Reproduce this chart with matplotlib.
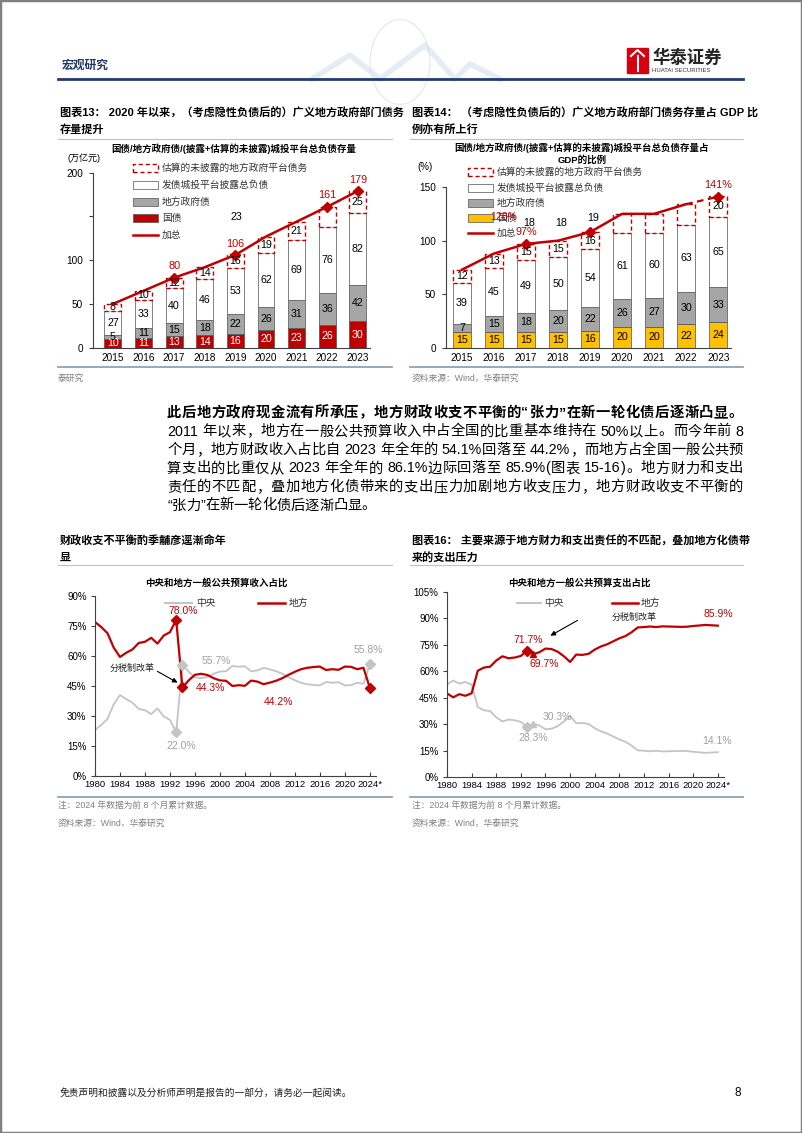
import re
import numpy as np
import matplotlib
matplotlib.use("Agg")
import matplotlib.pyplot as plt
from matplotlib.patches import Rectangle, Circle
from matplotlib.lines import Line2D

plt.rcParams['font.family'] = ['Liberation Sans', 'Noto Sans CJK SC', 'DejaVu Sans']
plt.rcParams['axes.linewidth'] = 0.8

# ---------------- data ----------------
bar_years = ['2015', '2016', '2017', '2018', '2019', '2020', '2021', '2022', '2023']

# 图表13 (万亿元)
gz_amt = [10, 11, 13, 14, 16, 20, 23, 26, 30]          # 国债
dfz_amt = [5, 11, 15, 18, 22, 26, 31, 36, 42]          # 地方政府债
ct_amt = [27, 33, 40, 46, 53, 62, 69, 76, 82]          # 发债城投平台披露总负债
est_amt = [8, 10, 12, 14, 16, 19, 21, 23, 25]          # 估算的未披露
total_amt = [50, 65, 80, 92, 106, 127, 144, 161, 179]  # 加总

# 图表14 (% of GDP)
gz_gdp = [15, 15, 15, 15, 16, 20, 20, 22, 24]
dfz_gdp = [7, 15, 18, 20, 22, 26, 27, 30, 33]
ct_gdp = [39, 45, 49, 50, 54, 61, 60, 63, 65]
est_gdp = [12, 13, 15, 15, 16, 18, 18, 19, 20]
total_gdp = [73, 88, 97, 100, 108, 125, 125, 134, 141]

line_years = list(range(1980, 2025))
rev_central = [23.0, 25.5, 28.6, 35.8, 40.5, 38.4, 36.7, 33.5, 32.9, 30.9,
               33.8, 29.8, 28.1, 22.0, 55.7, 52.2, 49.4, 48.9, 49.5, 51.1,
               52.2, 52.4, 55.0, 54.6, 54.9, 52.3, 52.8, 54.1, 53.3, 52.4,
               51.1, 49.4, 47.9, 46.6, 45.9, 45.5, 45.3, 47.0, 46.6, 46.9,
               45.3, 45.4, 46.6, 46.1, 55.8]
rev_local = [77.0, 74.5, 71.4, 64.2, 59.5, 61.6, 63.3, 66.5, 67.1, 69.1,
             66.2, 70.2, 71.9, 78.0, 44.3, 47.8, 50.6, 51.1, 50.5, 48.9,
             47.8, 47.6, 45.0, 45.4, 45.1, 47.7, 47.2, 45.9, 46.7, 47.6,
             48.9, 50.6, 52.1, 53.4, 54.1, 54.5, 54.7, 53.0, 53.4, 53.1,
             54.7, 54.6, 53.4, 54.1, 44.2]
exp_central = [52.5, 54.8, 53.0, 53.9, 52.5, 39.7, 37.9, 37.4, 33.9, 31.5,
               32.6, 32.2, 31.3, 28.3, 30.3, 29.2, 27.1, 27.4, 28.9, 31.5,
               34.7, 30.5, 30.7, 30.1, 27.7, 25.9, 24.7, 23.0, 21.3, 20.0,
               17.8, 15.1, 14.9, 14.6, 14.9, 14.5, 14.6, 14.7, 14.8, 14.7,
               14.3, 14.0, 13.7, 13.9, 14.1]
exp_local = [47.5, 45.2, 47.0, 46.1, 47.5, 60.3, 62.1, 62.6, 66.1, 68.5,
             67.4, 67.8, 68.7, 71.7, 69.7, 70.8, 72.9, 72.6, 71.1, 68.5,
             65.3, 69.5, 69.3, 69.9, 72.3, 74.1, 75.3, 77.0, 78.7, 80.0,
             82.2, 84.9, 85.1, 85.4, 85.1, 85.5, 85.4, 85.3, 85.2, 85.3,
             85.7, 86.0, 86.3, 86.1, 85.9]

legend_bar = ['估算的未披露的地方政府平台债务', '发债城投平台披露总负债', '地方政府债', '国债', '加总']

body = ['此后地方政府现金流有所承压，地方财政收支不平衡的“张力”在新一轮化债后逐渐凸显。',
        '2011 年以来，地方在一般公共预算收入中占全国的比重基本维持在 50%以上。而今年前 8',
        '个月，地方财政收入占比自 2023 年全年的 54.1%回落至 44.2%，而地方占全国一般公共预',
        '算支出的比重仅从 2023 年全年的 86.1%边际回落至 85.9%(图表 15-16)。地方财力和支出',
        '责任的不匹配，叠加地方化债带来的支出压力加剧地方收支压力，地方财政收支不平衡的',
        '“张力”在新一轮化债后逐渐凸显。']

RED = '#C00000'
GRAY = '#A6A6A6'
LGRAY = '#C4C4C4'
GOLD = '#FFC000'
SRC = '#808080'
W, H = 802, 1133

fig = plt.figure(figsize=(W / 100, H / 100), dpi=100)


def fx(x):
    return x / W


def fy(y):
    return 1 - y / H


def txt(x, y, s, size=7, **kw):
    kw.setdefault('va', 'center')
    return fig.text(fx(x), fy(y), s, fontsize=size, **kw)


def hline(x0, x1, y, color, lw):
    fig.add_artist(Line2D([fx(x0), fx(x1)], [fy(y), fy(y)], color=color, lw=lw))


def add_axes(l, t, r, b):
    return fig.add_axes([fx(l), fy(b), (r - l) / W, (b - t) / H])


def patch(x, y, w, h, **kw):
    fig.add_artist(Rectangle((fx(x), fy(y + h / 2)), w / W, h / H, transform=fig.transFigure, **kw))


# ---------------- page frame / header / footer ----------------
fig.add_artist(Rectangle((0, 0), 1, 1, transform=fig.transFigure, fill=False, edgecolor='#808080', lw=2.5))
globe = Circle((fx(400), fy(62)), 30 / W, transform=fig.transFigure, fill=False, edgecolor='#E4E8EC', lw=0.8)
fig.add_artist(globe)
fig.add_artist(Line2D([fx(x) for x in (312, 350, 380, 425, 455, 470, 500)],
                      [fy(y) for y in (79, 55, 79, 45, 79, 64, 79)], color='#D3E0EE', lw=4, alpha=0.6))
txt(62, 66, '宏观研究', 8.5, weight='bold', color='#1F3864')
hline(58, 743, 79, '#1F3C6E', 2)
patch(627, 60.5, 21, 25, color='#D7000F')
fig.add_artist(Line2D([fx(631), fx(637.5), fx(644)], [fy(56), fy(50), fy(56)], color='white', lw=1.5))
fig.add_artist(Line2D([fx(637.5), fx(637.5)], [fy(56), fy(71)], color='white', lw=1.5))
txt(652, 57, '华泰证券', 12.5, weight='bold', color='#222222')
txt(652, 71, 'HUATAI SECURITIES', 4.3, color='#333333')
txt(60, 1093, '免责声明和披露以及分析师声明是报告的一部分，请务必一起阅读。', 7, color='#222222')
txt(741, 1093, '8', 8.5, ha='right')

# ---------------- section titles ----------------
txt(60, 113, '图表13： 2020 年以来，（考虑隐性负债后的）广义地方政府部门债务', 8, weight='bold')
txt(60, 130, '存量提升', 8, weight='bold')
txt(412, 113, '图表14： （考虑隐性负债后的）广义地方政府部门债务存量占 GDP 比', 8, weight='bold')
txt(412, 130, '例亦有所上行', 8, weight='bold')
hline(58, 392, 139, '#B8C4CE', 0.8)
hline(410, 743, 139, '#B8C4CE', 0.8)

txt(60, 541, '财政收支不平衡酌季黼彦逕漸命年', 8, weight='bold')
txt(60, 558, '显', 8, weight='bold')
txt(412, 541, '图表16： 主要来源于地方财力和支出责任的不匹配，叠加地方化债带', 8, weight='bold')
txt(412, 558, '来的支出压力', 8, weight='bold')
hline(58, 392, 565, '#B8C4CE', 0.8)
hline(410, 743, 565, '#B8C4CE', 0.8)

# sources
hline(58, 392, 367, '#8FA3B8', 1.3)
hline(410, 743, 367, '#8FA3B8', 1.3)
txt(58, 378, '泰研究', 6.3, color=SRC)
txt(412, 378, '资料来源：Wind，华泰研究', 6.3, color=SRC)
hline(58, 392, 797, '#8FA3B8', 1.3)
hline(410, 743, 797, '#8FA3B8', 1.3)
for x0 in (58, 412):
    txt(x0, 806, '注：2024 年数据为前 8 个月累计数据。', 6.3, color=SRC)
    txt(x0, 823, '资料来源：Wind，华泰研究', 6.3, color=SRC)

# ---------------- body paragraph (justified) ----------------
renderer = fig.canvas.get_renderer()


def put_line(s, x0, x1, y, size, weight, justify):
    toks = re.findall(r'[0-9A-Za-z.%\-]+|.', s)
    objs, widths = [], []
    for t in toks:
        o = txt(0, y, t, size, weight=weight)
        objs.append(o)
        if t == ' ':
            widths.append(0.25 * size * 100 / 72)
        else:
            widths.append(o.get_window_extent(renderer).width)
    gap = (x1 - x0 - sum(widths)) / (len(toks) - 1) if justify else 0
    x = x0
    for o, w in zip(objs, widths):
        o.set_x(fx(x))
        x += w + gap


for i, line in enumerate(body):
    put_line(line, 167, 743, 413 + i * 18.5, 10.3, 'bold' if i == 0 else 'normal', i < len(body) - 1)


# ---------------- bar charts ----------------
def bar_panel(ax, gz, dfz, ct, est, total, gz_color, gz_tc, skip, marks, dash_last, lab_off, lab_fmt):
    x = np.arange(len(bar_years))
    gz, dfz, ct, est, total = map(np.array, (gz, dfz, ct, est, total))
    b2 = gz + dfz
    b3 = b2 + ct
    w = 0.55
    fs = 7.7
    ax.bar(x, gz, w, color=gz_color, edgecolor='#505050', lw=0.5, zorder=2)
    ax.bar(x, dfz, w, bottom=gz, color=GRAY, edgecolor='#505050', lw=0.5, zorder=2)
    ax.bar(x, ct, w, bottom=b2, color='white', edgecolor='#505050', lw=0.5, zorder=2)
    ax.bar(x, est, w, bottom=b3, color='white', edgecolor=RED, lw=1.0, ls=(0, (3, 2)), zorder=2)
    for i in x:
        ax.text(i, gz[i] / 2, str(gz[i]), color=gz_tc, ha='center', va='center', fontsize=fs, zorder=5)
        ax.text(i, gz[i] + dfz[i] / 2, str(dfz[i]), ha='center', va='center', fontsize=fs, zorder=5)
        ax.text(i, b2[i] + ct[i] / 2, str(ct[i]), ha='center', va='center', fontsize=fs, zorder=5)
        if i not in skip:
            ax.text(i, b3[i] + est[i] / 2, str(est[i]), ha='center', va='center', fontsize=fs, zorder=5)
    if dash_last:
        ax.plot(x[:-1], total[:-1], color=RED, lw=1.8, zorder=3)
        ax.plot(x[-2:], total[-2:], color=RED, lw=1.6, ls=(0, (3, 2)), zorder=3)
    else:
        ax.plot(x, total, color=RED, lw=1.8, zorder=3)
    for i in marks:
        ax.plot(x[i], total[i], 'D', color=RED, ms=5, zorder=4)
    for i in marks:
        if i in lab_fmt:
            ax.text(x[i], total[i] + lab_off, lab_fmt[i], color=RED, ha='center', va='center', fontsize=7.8,
                    zorder=6)
    ax.set_xticks(x)
    ax.set_xticklabels(bar_years)
    ax.tick_params(axis='x', length=0, pad=3.5, labelsize=7.2)
    ax.tick_params(axis='y', length=3, pad=4, labelsize=7.2, direction='out', color='#404040')
    for s in ('top', 'right'):
        ax.spines[s].set_visible(False)
    for s in ('left', 'bottom'):
        ax.spines[s].set_color('#404040')


ax13 = add_axes(93, 172.7, 370, 347.7)
bar_panel(ax13, gz_amt, dfz_amt, ct_amt, est_amt, total_amt, RED, 'white', skip={7},
          marks=[2, 4, 7, 8], dash_last=False, lab_off=13,
          lab_fmt={2: '80', 4: '106', 7: '161', 8: '179'})
ax13.set_xlim(-0.65, 8.4)
ax13.set_ylim(0, 200)
ax13.set_yticks([0, 50, 100, 150, 200])
ax13.set_yticklabels(['0', '50', '100', '', '200'])
ax13.text(4.05, 149, str(est_amt[7]), ha='center', va='center', fontsize=7.7)

ax14 = add_axes(446, 187, 731, 348)
bar_panel(ax14, gz_gdp, dfz_gdp, ct_gdp, est_gdp, total_gdp, GOLD, 'black', skip={5, 6, 7},
          marks=[2, 4, 8], dash_last=True, lab_off=11,
          lab_fmt={2: '97%', 8: '141%'})
ax14.set_xlim(-0.5, 8.4)
ax14.set_ylim(0, 150)
ax14.set_yticks([0, 50, 100, 150])
for xi, yi, k in ((2.1, 116.5, 5), (3.1, 116.5, 6), (4.1, 121, 7)):
    ax14.text(xi, yi, str(est_gdp[k]), ha='center', va='center', fontsize=7.7)

# unit labels / inner titles
txt(67, 158, '(万亿元)', 6.5)
txt(425, 167, '(%)', 7, ha='center')
txt(234, 149, '国债/地方政府债/(披露+估算的未披露)城投平台总负债存量', 6.8, weight='bold', ha='center')
txt(582, 148, '国债/地方政府债/(披露+估算的未披露)城投平台总负债存量占', 6.8, weight='bold', ha='center')
txt(582, 160, 'GDP的比例', 6.8, weight='bold', ha='center')


def bar_legend(x0, ys, gz_color):
    pw, ph = 25, 7
    patch(x0, ys[0], pw, ph, facecolor='white', edgecolor=RED, lw=1.0, ls=(0, (3, 2)))
    patch(x0, ys[1], pw, ph, facecolor='white', edgecolor='#505050', lw=0.5)
    patch(x0, ys[2], pw, ph, facecolor=GRAY, edgecolor='#505050', lw=0.5)
    patch(x0, ys[3], pw, ph, facecolor=gz_color, edgecolor='#505050', lw=0.5)
    fig.add_artist(Line2D([fx(x0), fx(x0 + pw)], [fy(ys[4]), fy(ys[4])], color=RED, lw=1.8))
    for lab, y in zip(legend_bar, ys):
        txt(x0 + pw + 4, y, lab, 7, color='#333333')


bar_legend(133, [168, 185, 202, 218, 235], RED)
bar_legend(468, [172, 188, 203, 218, 233], GOLD)
txt(490, 217, '128%', 7.5, color=RED)


# ---------------- line charts ----------------
def line_panel(ax, ymax):
    ax.set_xlim(1980, 2025)
    ax.set_ylim(0, ymax)
    ax.set_yticks(np.arange(0, ymax + 1, 15))
    ax.set_yticklabels(['%d%%' % v for v in np.arange(0, ymax + 1, 15)])
    ax.set_xticks(list(range(1980, 2025, 4)))
    ax.set_xticklabels([str(y) for y in range(1980, 2024, 4)] + ['2024*'])
    ax.tick_params(axis='x', direction='in', length=3, pad=3, labelsize=6.8, color='#404040')
    ax.tick_params(axis='y', direction='out', length=3, pad=3, labelsize=7, color='#404040')
    for s in ('top', 'right'):
        ax.spines[s].set_visible(False)
    for s in ('left', 'bottom'):
        ax.spines[s].set_color('#404040')


def pix_arrow(xy_text, xy_head):
    fig.add_artist(plt.Annotation('', xy=(xy_head[0], H - xy_head[1]), xycoords='figure pixels',
                                  xytext=(xy_text[0], H - xy_text[1]), textcoords='figure pixels',
                                  arrowprops=dict(arrowstyle='-|>', color='black', lw=0.8,
                                                  mutation_scale=7)))


yrs = np.array(line_years)
rc, rl, ec, el = map(np.array, (rev_central, rev_local, exp_central, exp_local))

ax15 = add_axes(95, 596, 376, 776)
line_panel(ax15, 90)
ax15.plot(yrs, rc, color=LGRAY, lw=1.3)
ax15.plot(yrs, rl, color=RED, lw=1.6)
for i in (13, 14, 44):
    ax15.plot(yrs[i], rc[i], 'D', color=LGRAY, ms=5)
    ax15.plot(yrs[i], rl[i], 'D', color=RED, ms=5)
txt(216, 583, '中央和地方一般公共预算收入占比', 6.8, weight='bold', ha='center')
fig.add_artist(Line2D([fx(165), fx(192)], [fy(603), fy(603)], color=LGRAY, lw=1.5))
txt(196, 603, '中央', 7, color='#333333')
fig.add_artist(Line2D([fx(258), fx(285)], [fy(603), fy(603)], color=RED, lw=1.8))
txt(289, 603, '地方', 7, color='#333333')
txt(183, 611, '78.0%', 7.5, color=RED, ha='center')
txt(196, 688, '44.3%', 7.5, color=RED)
txt(181, 746, '22.0%', 7.5, color='#A0A0A0', ha='center')
txt(202, 661, '55.7%', 7.5, color='#A0A0A0')
txt(278, 702, '44.2%', 7.5, color=RED, ha='center')
txt(368, 650, '55.8%', 7.5, color='#A0A0A0', ha='center')
txt(132, 668, '分税制改革', 6.5, ha='center', color='#222222')
pix_arrow((155, 670), (180, 684))

ax16 = add_axes(447, 592, 724, 777)
line_panel(ax16, 105)
ax16.plot(yrs, ec, color=LGRAY, lw=1.3)
ax16.plot(yrs, el, color=RED, lw=1.6)
ax16.plot(yrs[13], ec[13], 'D', color=LGRAY, ms=5)
ax16.plot(yrs[14], ec[14], '^', color=LGRAY, ms=5)
ax16.plot(yrs[13], el[13], 'D', color=RED, ms=5)
ax16.plot(yrs[14], el[14], '^', color=RED, ms=5)
txt(579, 583, '中央和地方一般公共预算支出占比', 6.8, weight='bold', ha='center')
fig.add_artist(Line2D([fx(517), fx(541)], [fy(603), fy(603)], color=LGRAY, lw=1.5))
txt(544, 603, '中央', 7, color='#333333')
fig.add_artist(Line2D([fx(612), fx(638)], [fy(603), fy(603)], color=RED, lw=1.8))
txt(641, 603, '地方', 7, color='#333333')
txt(612, 617, '分税制改革', 6.5, color='#222222')
pix_arrow((580, 619), (548, 637))
txt(528, 640, '71.7%', 7.5, color=RED, ha='center')
txt(544, 664, '69.7%', 7.5, color=RED, ha='center')
txt(557, 717, '30.3%', 7.5, color='#A0A0A0', ha='center')
txt(533, 738, '28.3%', 7.5, color='#A0A0A0', ha='center')
txt(718, 614, '85.9%', 7.5, color=RED, ha='center')
txt(717, 741, '14.1%', 7.5, color='#A0A0A0', ha='center')

fig.savefig('out.png', dpi=100)
